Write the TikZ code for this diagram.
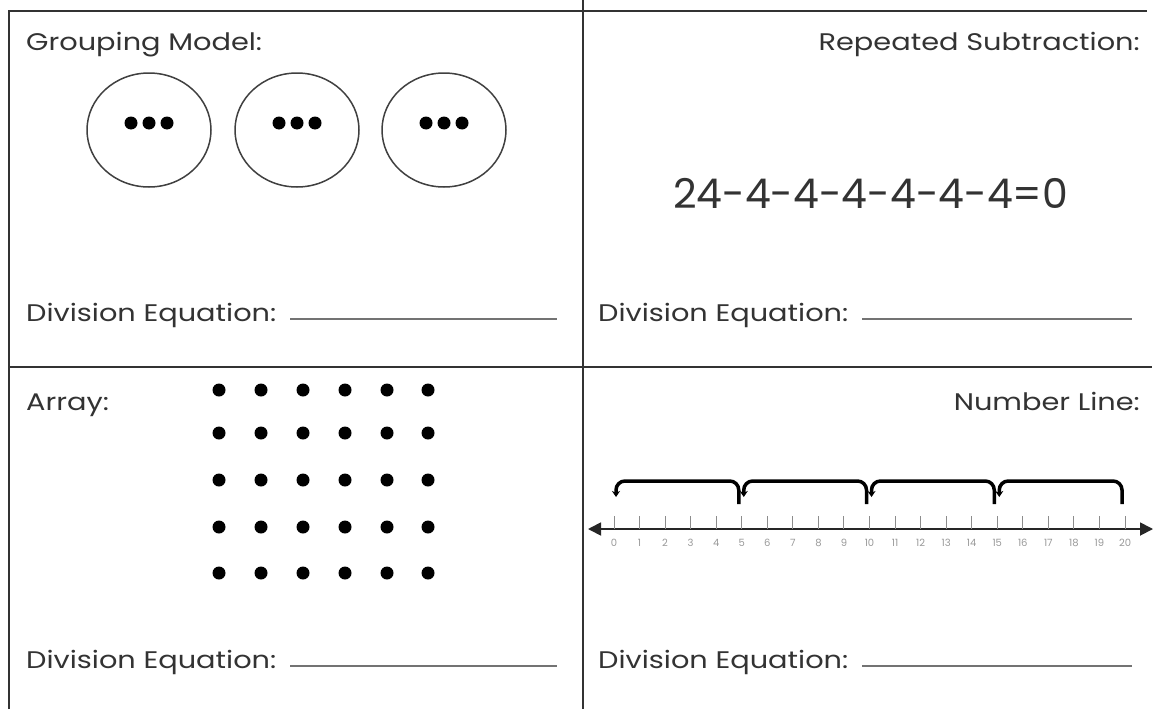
\documentclass[tikz,border=0pt]{standalone}
\usepackage{fontspec}
\setmainfont{Poppins}
\usetikzlibrary{arrows.meta}
\definecolor{txtgray}{HTML}{333333}
\definecolor{linegray}{HTML}{333333}
\newcommand{\wide}[1]{\scalebox{1.2}[1]{#1}}
\begin{document}
\begin{tikzpicture}[x=1pt,y=-1pt,
  lbl/.style={inner sep=0pt, text=txtgray, font=\fontsize{24}{24}\selectfont},
  gridline/.style={line width=2pt, draw=linegray},
  uline/.style={line width=1.4pt, draw=black!55},
  ring/.style={line width=1.5pt, draw=black!75},
  dot/.style={fill=black},
  brace/.style={line width=3.5pt, rounded corners=9pt, -{Stealth[length=6pt,width=8pt]}},
  tick/.style={line width=1pt, draw=black!45},
  numlbl/.style={inner sep=0pt, text=black!40, font=\fontsize{10}{10}\selectfont}]
\useasboundingbox[fill=white] (0,0) rectangle (1155,709);

% frame
\draw[gridline] (9,709) -- (9,11) -- (1147,11);
\draw[gridline] (583,0) -- (583,709);
\draw[gridline] (9,367) -- (1152,367);

% headings
\node[lbl, anchor=base west] (t1) at (26,50) {\wide{Grouping Model:}};
\node[lbl, anchor=base east] (t2) at (1140,50) {\wide{Repeated Subtraction:}};
\node[lbl, anchor=base west] (t3) at (26,410) {\wide{Array:}};
\node[lbl, anchor=base east] (t4) at (1140,410) {\wide{Number Line:}};

% division equations
\node[lbl, anchor=base west] (d1) at (26,321) {\wide{Division Equation:}};
\node[lbl, anchor=base west] (d2) at (598,321) {\wide{Division Equation:}};
\node[lbl, anchor=base west] (d3) at (26,668) {\wide{Division Equation:}};
\node[lbl, anchor=base west] (d4) at (598,668) {\wide{Division Equation:}};
\coordinate (u1s) at (290,319); \coordinate (u1e) at (557,319);
\coordinate (u2s) at (862,319); \coordinate (u2e) at (1132,319);
\coordinate (u3s) at (290,666); \coordinate (u3e) at (557,666);
\coordinate (u4s) at (862,666); \coordinate (u4e) at (1132,666);
\draw[uline] (u1s) -- (u1e);
\draw[uline] (u2s) -- (u2e);
\draw[uline] (u3s) -- (u3e);
\draw[uline] (u4s) -- (u4e);

% grouping model
\foreach \cx [count=\i] in {149,297,444} {
  \draw[ring] (\cx,130) ellipse [x radius=62, y radius=57];
  \foreach \dx in {-18,0,18} \fill[dot] (\cx+\dx,123) circle (6.5);
}

% repeated subtraction
\node[inner sep=0pt, text=txtgray, anchor=base west, font=\fontsize{41}{41}\selectfont] (eq) at (673,208) {24-4-4-4-4-4-4=0};

% array
\foreach \ry in {390,433,480,527,573}
  \foreach \rx in {219,261,303,345,387,428}
    \fill[dot] (\rx,\ry) circle (6.5);

% number line
\coordinate (nlL) at (588,529);
\coordinate (nlR) at (1153,529);
\draw[line width=1.8pt, black!85, {Triangle[length=13pt,width=13pt]}-{Triangle[length=13pt,width=13pt]}] (nlL) -- (nlR);
\foreach \n in {0,...,20} {
  \pgfmathsetmacro{\tx}{614+25.55*\n}
  \draw[tick] (\tx,516) -- (\tx,529);
  \node[numlbl] (n\n) at (\tx,543) {\n};
}
\foreach \k in {0,1,2,3} {
  \pgfmathsetmacro{\xl}{614+127.75*\k+2}
  \pgfmathsetmacro{\xr}{614+127.75*(\k+1)-3}
  \draw[brace] (\xr,504) -- (\xr,481) -- (\xl,481) -- (\xl,497);
}
\end{tikzpicture}
\end{document}
